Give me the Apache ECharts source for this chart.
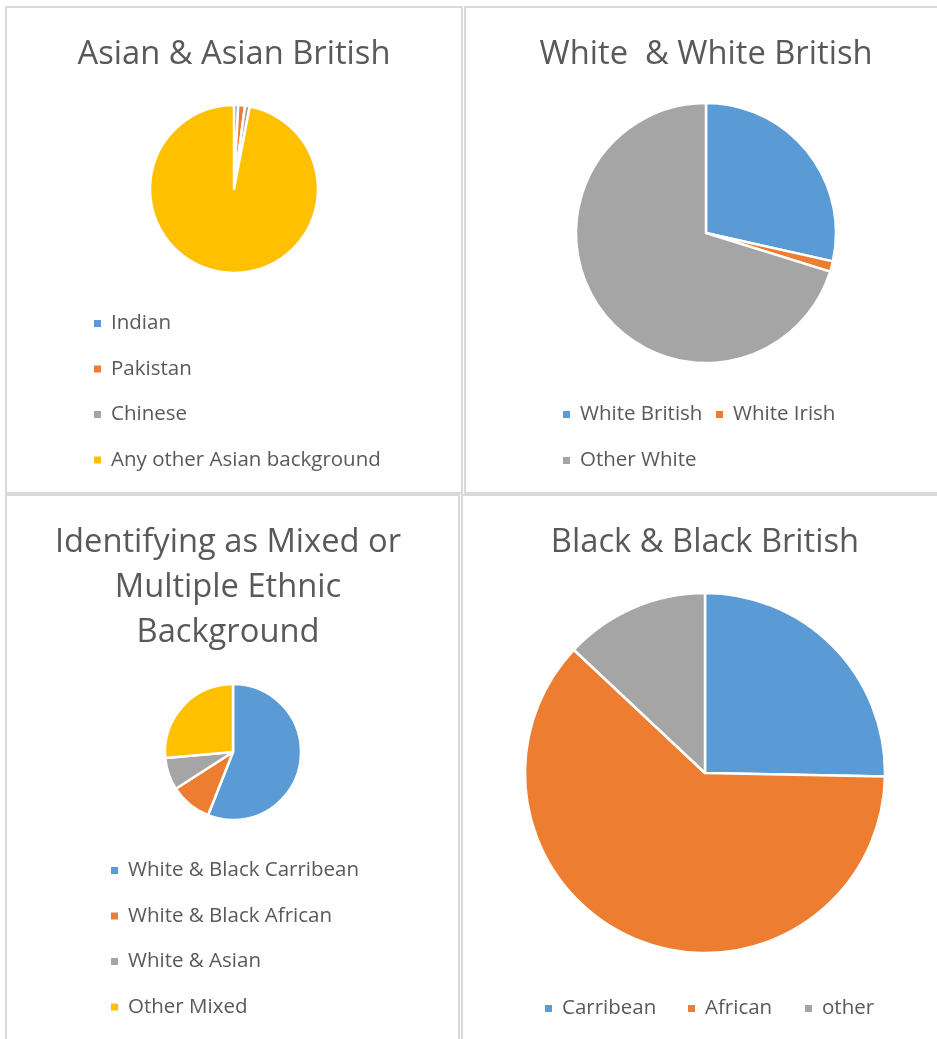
<!DOCTYPE html>
<html>
<head>
<meta charset="utf-8">
<script src="https://cdn.jsdelivr.net/npm/echarts@6/dist/echarts.min.js"></script>
<style>
  html, body { margin: 0; padding: 0; background: #fff; }
  #main { width: 937px; height: 1039px; }
</style>
</head>
<body>
<div id="main"></div>
<script>
var colors = ["#5B9BD5", "#ED7D31", "#A5A5A5", "#FFC000"];

var asianNames = ["Indian", "Pakistan", "Chinese", "Any other Asian background"];
var asianValues = [0.8, 1.3, 0.9, 97.0];

var whiteNames = ["White British", "White Irish", "Other White"];
var whiteValues = [28.5, 1.3, 70.2];

var mixedNames = ["White & Black Carribean", "White & Black African", "White & Asian", "Other Mixed"];
var mixedValues = [56.0, 9.9, 7.7, 26.4];

var blackNames = ["Carribean", "African", "other"];
var blackValues = [25.3, 61.7, 13.0];

var font = "'Open Sans', 'Noto Sans', sans-serif";
var textColor = "#595959";

function pieData(names, values) {
  return names.map(function (n, i) {
    return { name: n, value: values[i], itemStyle: { color: colors[i] } };
  });
}

function pie(names, values, center, radius) {
  return {
    type: "pie",
    center: center,
    radius: radius,
    startAngle: 90,
    clockwise: true,
    animation: false,
    label: { show: false },
    labelLine: { show: false },
    itemStyle: { borderColor: "#fff", borderWidth: 2.5 },
    emphasis: { scale: false },
    data: pieData(names, values)
  };
}

// one legend block; items of a block are stacked vertically
function legend(names, left, top) {
  return {
    data: names,
    left: left,
    top: top,
    orient: "vertical",
    itemWidth: 9,
    itemHeight: 9,
    itemGap: 24.5,
    icon: "rect",
    selectedMode: false,
    textStyle: { color: textColor, fontSize: 20.5, fontFamily: font, padding: [0, 0, 0, 4] },
    padding: 0
  };
}

function title(text, x, y) {
  return {
    type: "text",
    x: x,
    y: y,
    style: {
      text: text,
      textAlign: "center",
      textVerticalAlign: "middle",
      fontSize: 32.7,
      fontFamily: font,
      lineHeight: 45,
      fill: textColor
    }
  };
}

function panel(x, y, w, h) {
  return {
    type: "rect",
    shape: { x: x, y: y, width: w, height: h },
    style: { fill: null, stroke: "#d9d9d9", lineWidth: 2 },
    z: -1
  };
}

var chart = echarts.init(document.getElementById("main"));
chart.setOption({
  animation: false,
  graphic: [
    panel(6, 7, 456, 486),
    panel(465, 7, 500, 486),
    panel(6, 495, 453, 600),
    panel(462, 495, 500, 600),
    title("Asian & Asian British", 234, 55),
    title("White  & White British", 706, 55),
    title("Identifying as Mixed or\nMultiple Ethnic\nBackground", 228, 588),
    title("Black & Black British", 705, 543)
  ],
  legend: [
    legend(asianNames, 92, 313),
    legend(whiteNames.slice(0, 1), 561, 404),
    legend(whiteNames.slice(1, 2), 714, 404),
    legend(whiteNames.slice(2), 561, 450),
    legend(mixedNames, 109, 860),
    legend(blackNames.slice(0, 1), 543, 998),
    legend(blackNames.slice(1, 2), 686, 998),
    legend(blackNames.slice(2), 803, 998)
  ],
  series: [
    pie(asianNames, asianValues, [234, 189], 84),
    pie(whiteNames, whiteValues, [706, 233], 130),
    pie(mixedNames, mixedValues, [233, 752], 68),
    pie(blackNames, blackValues, [705, 773], 180)
  ]
});
</script>
</body>
</html>
